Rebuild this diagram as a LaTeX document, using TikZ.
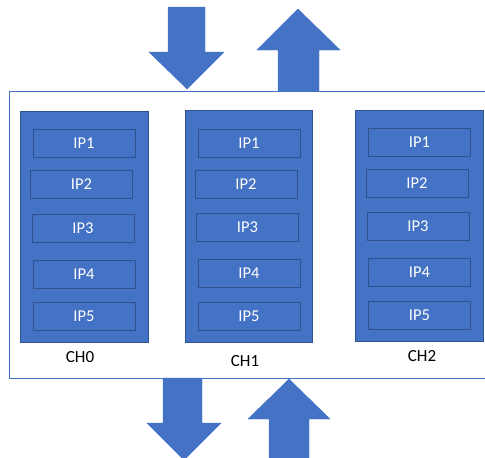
\documentclass[tikz,border=0pt]{standalone}
\usepackage{fontspec}
\setmainfont{Carlito}
\definecolor{offblue}{HTML}{4472C4}
\definecolor{darkblue}{HTML}{2F528F}
\begin{document}
\begin{tikzpicture}[x=1pt,y=-1pt,
  chbox/.style={draw=darkblue, fill=offblue, line width=0.8pt, minimum width=128pt, minimum height=231pt, inner sep=0pt},
  ipbox/.style={draw=darkblue, fill=offblue, line width=0.8pt, minimum width=102pt, minimum height=28pt, inner sep=0pt, text=white, font=\fontsize{16.5}{18}\selectfont},
  chlabel/.style={font=\fontsize{17}{19}\selectfont, text=black, inner sep=0pt},
  bigarrow/.style={fill=offblue, draw=offblue, line width=0.4pt}]
\useasboundingbox (0,0) rectangle (485,458);
\clip (0,0) rectangle (485,458);
\fill[white] (0,0) rectangle (485,458);
% outer frame
\draw[offblue, line width=0.8pt] (490,91) -- (9,91) -- (9,378) -- (490,378);
% channels
\node[chbox] (ch0) at (84,226.5) {};
\node[chbox, minimum width=127pt, minimum height=232pt] (ch1) at (248.5,226) {};
\node[chbox] (ch2) at (419,225.5) {};
% IP boxes CH0
\node[ipbox] (a1) at (84,143) {IP1};
\node[ipbox] (a2) at (81.5,184) {IP2};
\node[ipbox] (a3) at (83,228) {IP3};
\node[ipbox] (a4) at (84,274) {IP4};
\node[ipbox] (a5) at (84,316) {IP5};
% IP boxes CH1
\node[ipbox] (b1) at (249,143) {IP1};
\node[ipbox] (b2) at (246,184) {IP2};
\node[ipbox] (b3) at (247.5,227.5) {IP3};
\node[ipbox] (b4) at (249,273.5) {IP4};
\node[ipbox] (b5) at (249,316) {IP5};
% IP boxes CH2
\node[ipbox] (c1) at (419.5,142.5) {IP1};
\node[ipbox] (c2) at (417,183) {IP2};
\node[ipbox] (c3) at (418,226.5) {IP3};
\node[ipbox] (c4) at (419.5,272.5) {IP4};
\node[ipbox] (c5) at (419.5,315.5) {IP5};
% labels
\node[chlabel] (l0) at (80,357) {CH0};
\node[chlabel] (l1) at (245,361) {CH1};
\node[chlabel] (l2) at (422,356) {CH2};
% top arrows
\path[bigarrow] (168,7) -- (205,7) -- (205,52) -- (224,52) -- (187,89) -- (149,52) -- (168,52) -- cycle;
\path[bigarrow] (278,91) -- (278,50) -- (257,50) -- (298,9) -- (340,50) -- (319,50) -- (319,91) -- cycle;
% bottom arrows
\path[bigarrow] (163,378) -- (202,378) -- (202,423) -- (221,423) -- (184,460) -- (147,423) -- (163,423) -- cycle;
\path[bigarrow] (269,470) -- (269,419) -- (248,419) -- (289,379) -- (330,419) -- (309,419) -- (309,470) -- cycle;
\end{tikzpicture}
\end{document}
